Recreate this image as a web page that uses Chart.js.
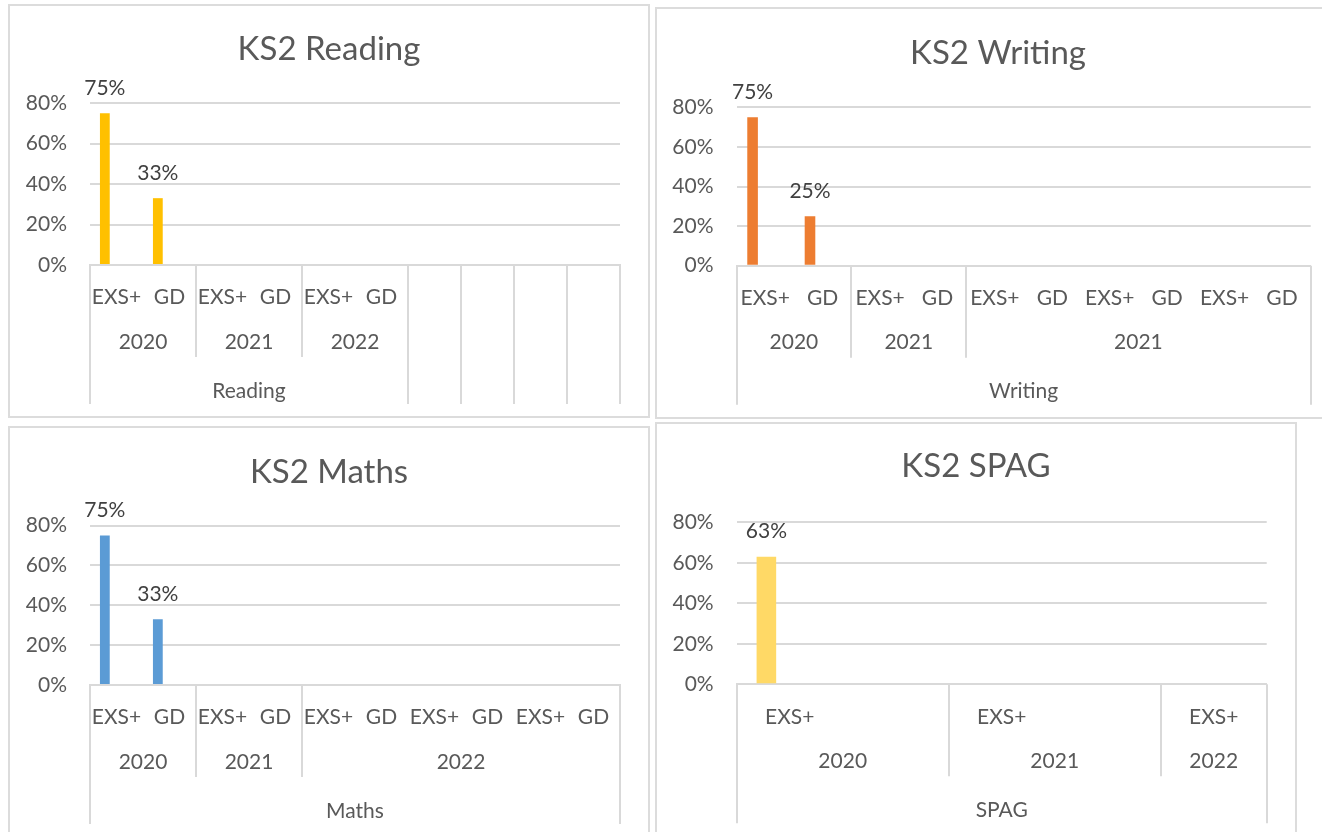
<!DOCTYPE html>
<html>
<head>
<meta charset="utf-8">
<title>KS2 results</title>
<script src="https://cdn.jsdelivr.net/npm/chart.js@4.4.0/dist/chart.umd.min.js"></script>
<style>
  body { margin: 0; width: 1322px; height: 832px; overflow: hidden; position: relative; background: #fff; }
  .frame { position: absolute; box-sizing: border-box; border: 2px solid #dcdcdc; background: #fff; }
  canvas { position: absolute; }
</style>
</head>
<body>
<script>
// KS2 attainment charts: reading, writing, maths and SPAG, each with a two level category axis

const yMax = 0.8;
const yStep = 0.2;

const readingLabels = ['EXS+', 'GD', 'EXS+', 'GD', 'EXS+', 'GD', '', '', '', ''];
const readingYears = [['2020', 2], ['2021', 2], ['2022', 2], ['', 1], ['', 1], ['', 1], ['', 1]];
const readingSubjects = [['Reading', 6], ['', 1], ['', 1], ['', 1], ['', 1]];
const readingValues = [0.75, 0.33, null, null, null, null, null, null, null, null];

const writingLabels = ['EXS+', 'GD', 'EXS+', 'GD', 'EXS+', 'GD', 'EXS+', 'GD', 'EXS+', 'GD'];
const writingYears = [['2020', 2], ['2021', 2], ['2021', 6]];
const writingSubjects = [['Writing', 10]];
const writingValues = [0.75, 0.25, null, null, null, null, null, null, null, null];

const mathsLabels = ['EXS+', 'GD', 'EXS+', 'GD', 'EXS+', 'GD', 'EXS+', 'GD', 'EXS+', 'GD'];
const mathsYears = [['2020', 2], ['2021', 2], ['2022', 6]];
const mathsSubjects = [['Maths', 10]];
const mathsValues = [0.75, 0.33, null, null, null, null, null, null, null, null];

const spagLabels = ['EXS+', '', 'EXS+', '', 'EXS+'];
const spagYears = [['2020', 2], ['2021', 2], ['2022', 1]];
const spagSubjects = [['SPAG', 5]];
const spagValues = [0.63, null, null, null, null];

const textColour = '#595959';
const labelColour = '#404040';
const gridColour = '#d9d9d9';
const tickSize = 21;
const titleSize = 33;
const axisHeight = 139;
const rowBottoms = [92, 139];   // year row, subject row (below the axis line)
const rowLabelY = [77, 126];

Chart.defaults.font.family = 'Lato';
Chart.defaults.color = textColour;

const valueLabels = {
    id: 'valueLabels',
    afterDatasetsDraw(chart) {
        const ctx = chart.ctx;
        const values = chart.data.datasets[0].data;
        ctx.save();
        ctx.font = tickSize + 'px Lato';
        ctx.fillStyle = labelColour;
        ctx.textAlign = 'center';
        ctx.textBaseline = 'alphabetic';
        chart.getDatasetMeta(0).data.forEach((bar, i) => {
            if (values[i] === null) return;
            ctx.fillText(Math.round(values[i] * 100) + '%', bar.x, bar.y - 18.5);
        });
        ctx.restore();
    }
};

// title centred on the whole frame (the built-in one centres inside the layout padding)
function frameTitle(text, y) {
    return {
        id: 'frameTitle',
        afterDraw(chart) {
            const ctx = chart.ctx;
            ctx.save();
            ctx.font = titleSize + 'px Lato';
            ctx.fillStyle = textColour;
            ctx.textAlign = 'center';
            ctx.textBaseline = 'middle';
            ctx.fillText(text, chart.width / 2, y);
            ctx.restore();
        }
    };
}

// draws the year and subject rows under the category ticks, Excel style
function groupAxis(levels) {
    return {
        id: 'groupAxis',
        afterDraw(chart) {
            const x = chart.scales.x;
            const ctx = chart.ctx;
            const n = chart.data.labels.length;
            const edges = levels.map(groups => {
                const set = new Set([0]);
                let k = 0;
                groups.forEach(g => { k += g[1]; set.add(k); });
                return set;
            });
            ctx.save();
            ctx.strokeStyle = gridColour;
            ctx.lineWidth = 2;
            for (let k = 0; k <= n; k++) {
                let depth = -1;
                edges.forEach((set, li) => { if (set.has(k)) depth = li; });
                if (depth < 0) continue;
                const px = Math.round(x.getPixelForValue(k - 0.5));
                ctx.beginPath();
                ctx.moveTo(px, x.top);
                ctx.lineTo(px, x.top + rowBottoms[depth]);
                ctx.stroke();
            }
            ctx.font = tickSize + 'px Lato';
            ctx.fillStyle = textColour;
            ctx.textAlign = 'center';
            ctx.textBaseline = 'middle';
            levels.forEach((groups, li) => {
                let start = 0;
                groups.forEach(([label, span]) => {
                    const cx = (x.getPixelForValue(start - 0.5) + x.getPixelForValue(start + span - 0.5)) / 2;
                    if (label) ctx.fillText(label, cx, x.top + rowLabelY[li]);
                    start += span;
                });
            });
            ctx.restore();
        }
    };
}

function drawKs2Chart(title, colour, labels, years, subjects, values, lay) {
    const [bx, by, bw, bh] = lay.box;
    const [pl, pt, pr, pb] = lay.plot;

    const frame = document.createElement('div');
    frame.className = 'frame';
    Object.assign(frame.style, { left: bx + 'px', top: by + 'px', width: bw + 'px', height: bh + 'px' });
    document.body.appendChild(frame);

    const canvas = document.createElement('canvas');
    canvas.width = bw;
    canvas.height = bh;
    Object.assign(canvas.style, { left: bx + 'px', top: by + 'px' });
    document.body.appendChild(canvas);

    return new Chart(canvas, {
        type: 'bar',
        data: {
            labels: labels,
            datasets: [
                { label: title, data: values, backgroundColor: colour },
                { data: [] },
                { data: [] }
            ]
        },
        options: {
            responsive: false,
            animation: false,
            datasets: {
                bar: { categoryPercentage: 0.66, barPercentage: 0.84 }
            },
            layout: {
                padding: { left: 0, top: pt, right: bw - pr, bottom: bh - pb - axisHeight }
            },
            scales: {
                x: {
                    grid: { display: false },
                    border: { color: gridColour, width: 2 },
                    ticks: {
                        autoSkip: false,
                        maxRotation: 0,
                        minRotation: 0,
                        padding: 12,
                        color: textColour,
                        font: { size: tickSize }
                    },
                    afterFit(scale) { scale.height = axisHeight; }
                },
                y: {
                    min: 0,
                    max: yMax,
                    border: { display: false },
                    grid: { color: gridColour, lineWidth: 2, drawTicks: false },
                    ticks: {
                        stepSize: yStep,
                        padding: 23,
                        color: textColour,
                        font: { size: tickSize },
                        callback: v => Math.round(v * 100) + '%'
                    },
                    afterFit(scale) { scale.width = pl; }
                }
            },
            plugins: {
                legend: { display: false },
                tooltip: { enabled: false },
                title: { display: false }
            }
        },
        plugins: [valueLabels, groupAxis([years, subjects]), frameTitle(title, lay.titleY)]
    });
}

drawKs2Chart('KS2 Reading', '#ffc000', readingLabels, readingYears, readingSubjects, readingValues,
    { box: [8, 4, 642, 414], titleY: 45, plot: [82, 99, 612, 261] });
drawKs2Chart('KS2 Writing', '#ed7d31', writingLabels, writingYears, writingSubjects, writingValues,
    { box: [655, 7, 686, 412], titleY: 46, plot: [81.5, 100.3, 655.7, 258.7] });
drawKs2Chart('KS2 Maths', '#5b9bd5', mathsLabels, mathsYears, mathsSubjects, mathsValues,
    { box: [8, 426, 642, 414], titleY: 46, plot: [82, 99.5, 612, 259] });
drawKs2Chart('KS2 SPAG', '#ffd966', spagLabels, spagYears, spagSubjects, spagValues,
    { box: [655, 422, 642, 414], titleY: 44, plot: [81.7, 100.3, 611.7, 262.3] });
</script>
</body>
</html>
